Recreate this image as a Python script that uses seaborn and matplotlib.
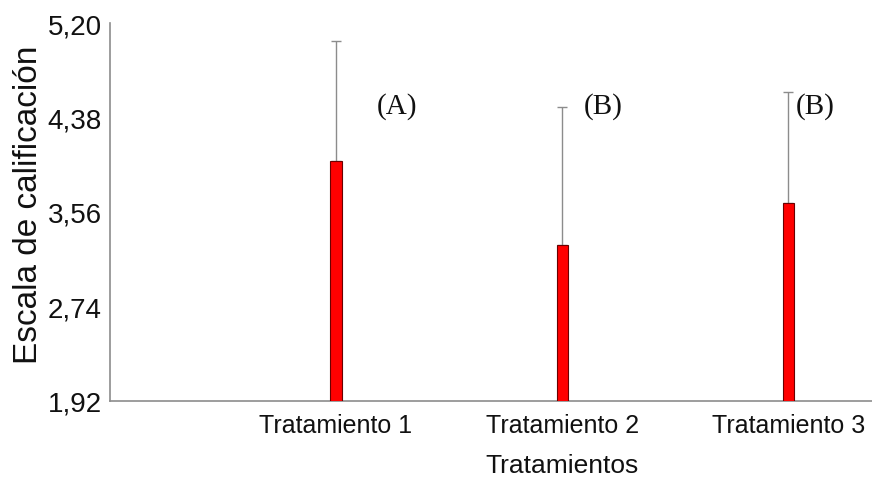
import matplotlib
matplotlib.use("Agg")
import matplotlib.pyplot as plt
import numpy as np
import pandas as pd
import seaborn as sns

# Data
tratamientos = ["Tratamiento 1", "Tratamiento 2", "Tratamiento 3"]
medias = [4.00, 3.27, 3.64]
error_sup = [1.04, 1.20, 0.96]
letras = ["(A)", "(B)", "(B)"]
y_ticks = [1.92, 2.74, 3.56, 4.38, 5.20]

df = pd.DataFrame({"trat": tratamientos, "media": medias})

sns.set_style("white")
plt.rcParams["font.family"] = ["Liberation Sans", "DejaVu Sans"]

fig = plt.figure(figsize=(8.72, 4.81), dpi=100)
ax = fig.add_axes([0.126, 0.165, 0.874, 0.785])

sns.barplot(data=df, x="trat", y="media", color="#ff0000", saturation=1,
            width=0.05, edgecolor="#6a0000", linewidth=0.8, errorbar=None,
            ax=ax, zorder=3)

# only the upper arm of the error bar shows above each bar
x = np.arange(len(tratamientos))
ax.errorbar(x, medias, yerr=[np.zeros(len(medias)), error_sup], fmt="none",
            ecolor="#8c8c8c", elinewidth=1.0, capsize=3.5, capthick=1.0, zorder=2)

offsets = [0.27, 0.18, 0.12]
for i, lab in enumerate(letras):
    ax.text(i + offsets[i], 4.48, lab, family="Liberation Serif", fontsize=21,
            ha="center", va="center", color="#111111")

ax.set_ylim(1.92, 5.20)
ax.set_xlim(-1.0, 2.37)
ax.set_yticks(y_ticks)
ax.set_yticklabels([f"{v:.2f}".replace(".", ",") for v in y_ticks])

sns.despine(ax=ax)
for s in ["left", "bottom"]:
    ax.spines[s].set_color("#8c8c8c")
    ax.spines[s].set_linewidth(1.2)
ax.tick_params(axis="both", direction="out", length=3, width=1, color="#8c8c8c",
               labelsize=20, labelcolor="#111111", pad=3)
ax.tick_params(axis="x", labelsize=18, pad=6)

ax.set_xlabel("Tratamientos", fontsize=19, color="#111111")
# label sits under the middle category, not the axes centre
ax.xaxis.set_label_coords(0.593, -0.14)
ax.set_ylabel("Escala de calificación", fontsize=24, color="#111111")
ax.yaxis.set_label_coords(-0.087, 0.52)

fig.savefig("out.png", dpi=100)
